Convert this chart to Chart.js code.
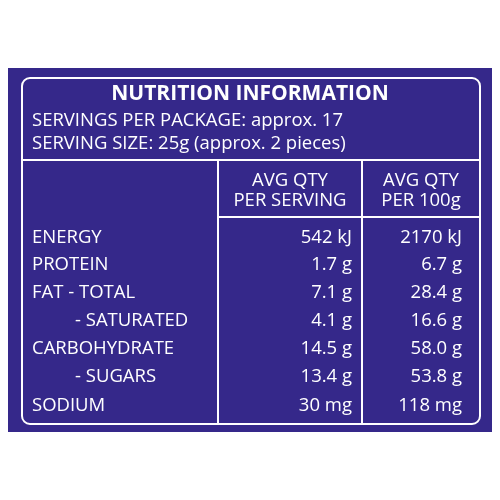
<!DOCTYPE html>
<html><head><meta charset="utf-8">
<script src="https://cdn.jsdelivr.net/npm/chart.js@4"></script>
<style>html,body{margin:0;padding:0;background:#fff}#c{display:block}</style>
</head><body>
<div style="width:500px;height:500px"><canvas id="c" width="500" height="500"></canvas></div>
<script>
var title = "NUTRITION INFORMATION"
var servingLines = ["SERVINGS PER PACKAGE: approx. 17", "SERVING SIZE: 25g (approx. 2 pieces)"]
var colHeads = [["AVG QTY", "PER SERVING"], ["AVG QTY", "PER 100g"]]
var nutrients = ["ENERGY", "PROTEIN", "FAT - TOTAL", "     - SATURATED", "CARBOHYDRATE", "     - SUGARS", "SODIUM"]
var perServing = ["542 kJ", "1.7 g", "7.1 g", "4.1 g", "14.5 g", "13.4 g", "30 mg"]
var per100g = ["2170 kJ", "6.7 g", "28.4 g", "16.6 g", "58.0 g", "53.8 g", "118 mg"]

var purple = "#35288a"
var font = "'Open Sans', 'DejaVu Sans', sans-serif"

var tablePlugin = {
  id: 'table',
  afterDraw: function(chart){
    var ctx = chart.ctx
    ctx.save()
    ctx.fillStyle = purple
    ctx.fillRect(8, 68, 484, 364)
    ctx.strokeStyle = "#fff"
    ctx.lineWidth = 2
    ctx.beginPath()
    ctx.roundRect(22, 78, 458, 346, 8)
    ctx.stroke()
    ctx.beginPath()
    ctx.moveTo(22, 160); ctx.lineTo(480, 160)
    ctx.moveTo(218, 160); ctx.lineTo(218, 424)
    ctx.moveTo(362, 160); ctx.lineTo(362, 424)
    ctx.moveTo(218, 217); ctx.lineTo(480, 217)
    ctx.stroke()
    ctx.fillStyle = "#fff"
    ctx.textBaseline = "middle"
    ctx.textAlign = "center"
    ctx.font = "bold 21px " + font
    ctx.fillText(title, 250, 94)
    ctx.font = "18.5px " + font
    ctx.textAlign = "left"
    servingLines.forEach(function(s, i){ ctx.fillText(s, 32, 121 + i*23) })
    ctx.textAlign = "center"
    colHeads.forEach(function(h, i){
      var cx = i == 0 ? 290 : 421
      ctx.fillText(h[0], cx, 181); ctx.fillText(h[1], cx, 201)
    })
    var ys = [238, 265, 293, 321, 349, 377, 406]
    nutrients.forEach(function(n, i){
      ctx.textAlign = "left"
      ctx.fillText(n.trim(), n.indexOf("-") == 5 ? 75 : 32, ys[i])
      ctx.textAlign = "right"
      ctx.fillText(perServing[i], 352, ys[i])
      ctx.fillText(per100g[i], 462, ys[i])
    })
    ctx.restore()
  }
}

new Chart(document.getElementById('c'), {
  type: 'bar',
  data: { labels: nutrients, datasets: [{ data: [] }] },
  options: {
    responsive: false, animation: false,
    plugins: { legend: { display: false }, tooltip: { enabled: false } },
    scales: { x: { display: false }, y: { display: false } }
  },
  plugins: [tablePlugin]
})
</script>
</body></html>
